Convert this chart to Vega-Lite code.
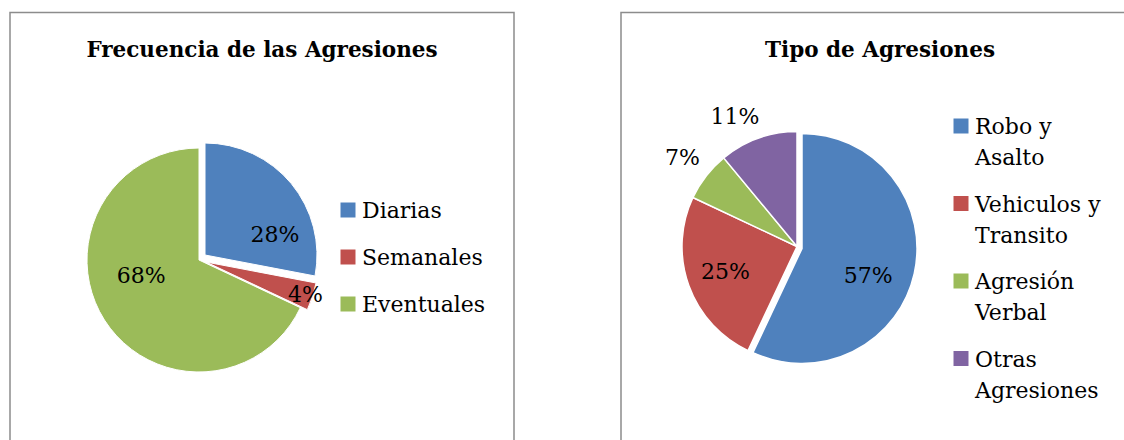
{
  "$schema": "https://vega.github.io/schema/vega-lite/v6.json",
  "background": "white",
  "padding": {"left": 9, "top": 11.5, "right": 0, "bottom": 0},
  "spacing": 105,
  "config": {
    "view": {"stroke": "#8c8c8c", "strokeWidth": 1.5},
    "font": "DejaVu Serif",
    "title": {"font": "DejaVu Serif", "fontSize": 21.5, "fontWeight": "bold", "color": "#000", "anchor": "middle", "frame": "group", "baseline": "alphabetic"},
    "legend": {"title": null, "symbolType": "square", "symbolSize": 225, "symbolStrokeWidth": 0, "symbolOpacity": 1, "labelFontSize": 22, "labelFont": "DejaVu Serif", "labelColor": "#000", "labelOffset": 3, "padding": 0, "labelLimit": 300, "labelBaseline": "top"},
    "style": {"guide-label": {"lineHeight": 31, "dy": -9}}
  },
  "resolve": {"scale": {"color": "independent", "theta": "independent"}},
  "hconcat": [
    {
      "width": 504,
      "height": 440,
      "view": {"stroke": "#8c8c8c", "strokeWidth": 1.5},
      "title": {"text": "Frecuencia de las Agresiones", "offset": -49},
      "data": {"values": [
        {"cat": "Diarias", "ord": 1, "pct": 28, "label": "28%"},
        {"cat": "Semanales", "ord": 2, "pct": 4, "label": "4%"},
        {"cat": "Eventuales", "ord": 3, "pct": 68, "label": "68%"}
      ]},
      "encoding": {
        "theta": {"field": "pct", "type": "quantitative", "stack": true},
        "order": {"field": "ord", "type": "quantitative"},
        "color": {"field": "cat", "type": "nominal",
          "scale": {"domain": ["Diarias", "Semanales", "Eventuales"], "range": ["#4F81BD", "#C0504D", "#9BBB59"]},
          "legend": {"orient": "none", "legendX": 327, "legendY": 186.5, "rowPadding": 24}}
      },
      "layer": [
        {"mark": {"type": "arc", "radius": 112, "x": 189, "y": 247.5, "stroke": "white", "strokeWidth": 1},
         "encoding": {"opacity": {"condition": {"test": "datum.cat === 'Eventuales'", "value": 1}, "value": 0}}},
        {"mark": {"type": "arc", "radius": 112, "x": 195, "y": 242.5, "stroke": "white", "strokeWidth": 1},
         "encoding": {"opacity": {"condition": {"test": "datum.cat === 'Diarias'", "value": 1}, "value": 0}}},
        {"mark": {"type": "arc", "radius": 112, "x": 196, "y": 249.5, "stroke": "white", "strokeWidth": 1},
         "encoding": {"opacity": {"condition": {"test": "datum.cat === 'Semanales'", "value": 1}, "value": 0}}},
        {"mark": {"type": "text", "radius": 80, "thetaOffset": 0.37, "x": 189, "y": 247.5, "fontSize": 22, "font": "DejaVu Serif", "baseline": "middle", "align": "center"},
         "encoding": {"text": {"field": "label"}, "color": {"value": "#000"}, "detail": {"field": "cat"},
           "opacity": {"condition": {"test": "datum.cat === 'Diarias'", "value": 1}, "value": 0}}},
        {"mark": {"type": "text", "radius": 112, "x": 189, "y": 247.5, "fontSize": 22, "font": "DejaVu Serif", "baseline": "middle", "align": "center"},
         "encoding": {"text": {"field": "label"}, "color": {"value": "#000"}, "detail": {"field": "cat"},
           "opacity": {"condition": {"test": "datum.cat === 'Semanales'", "value": 1}, "value": 0}}},
        {"mark": {"type": "text", "radius": 60, "thetaOffset": 0.29, "x": 189, "y": 247.5, "fontSize": 22, "font": "DejaVu Serif", "baseline": "middle", "align": "center"},
         "encoding": {"text": {"field": "label"}, "color": {"value": "#000"}, "detail": {"field": "cat"},
           "opacity": {"condition": {"test": "datum.cat === 'Eventuales'", "value": 1}, "value": 0}}}
      ]
    },
    {
      "width": 518,
      "height": 440,
      "view": {"stroke": "#8c8c8c", "strokeWidth": 1.5},
      "title": {"text": "Tipo de Agresiones", "offset": -49},
      "data": {"values": [
        {"cat": "Robo y Asalto", "ord": 1, "pct": 57, "label": "57%"},
        {"cat": "Vehiculos y Transito", "ord": 2, "pct": 25, "label": "25%"},
        {"cat": "Agresión Verbal", "ord": 3, "pct": 7, "label": "7%"},
        {"cat": "Otras Agresiones", "ord": 4, "pct": 11, "label": "11%"}
      ]},
      "encoding": {
        "theta": {"field": "pct", "type": "quantitative", "stack": true},
        "order": {"field": "ord", "type": "quantitative"},
        "color": {"field": "cat", "type": "nominal",
          "scale": {"domain": ["Robo y Asalto", "Vehiculos y Transito", "Agresión Verbal", "Otras Agresiones"], "range": ["#4F81BD", "#C0504D", "#9BBB59", "#8064A2"]},
          "legend": {"orient": "none", "legendX": 329, "legendY": 102.5, "rowPadding": 23.5,
            "labelExpr": "datum.label === 'Robo y Asalto' ? ['Robo y', 'Asalto'] : datum.label === 'Vehiculos y Transito' ? ['Vehiculos y', 'Transito'] : datum.label === 'Agresión Verbal' ? ['Agresión', 'Verbal'] : ['Otras', 'Agresiones']"}}
      },
      "layer": [
        {"mark": {"type": "arc", "radius": 115, "x": 176, "y": 234, "stroke": "white", "strokeWidth": 1.5},
         "encoding": {"opacity": {"condition": {"test": "datum.cat !== 'Robo y Asalto'", "value": 1}, "value": 0}}},
        {"mark": {"type": "arc", "radius": 115, "x": 181, "y": 236, "stroke": "white", "strokeWidth": 1.5},
         "encoding": {"opacity": {"condition": {"test": "datum.cat === 'Robo y Asalto'", "value": 1}, "value": 0}}},
        {"mark": {"type": "text", "radius": 77, "thetaOffset": 0.17, "x": 176, "y": 234, "fontSize": 22, "font": "DejaVu Serif", "baseline": "middle", "align": "center"},
         "encoding": {"text": {"field": "label"}, "color": {"value": "#000"}, "detail": {"field": "cat"},
           "opacity": {"condition": {"test": "datum.cat === 'Robo y Asalto'", "value": 1}, "value": 0}}},
        {"mark": {"type": "text", "radius": 76, "x": 176, "y": 234, "fontSize": 22, "font": "DejaVu Serif", "baseline": "middle", "align": "center"},
         "encoding": {"text": {"field": "label"}, "color": {"value": "#000"}, "detail": {"field": "cat"},
           "opacity": {"condition": {"test": "datum.cat === 'Vehiculos y Transito'", "value": 1}, "value": 0}}},
        {"mark": {"type": "text", "radius": 145, "x": 176, "y": 234, "fontSize": 22, "font": "DejaVu Serif", "baseline": "middle", "align": "center"},
         "encoding": {"text": {"field": "label"}, "color": {"value": "#000"}, "detail": {"field": "cat"},
           "opacity": {"condition": {"test": "datum.cat === 'Agresión Verbal'", "value": 1}, "value": 0}}},
        {"mark": {"type": "text", "radius": 144, "thetaOffset": -0.1, "x": 176, "y": 234, "fontSize": 22, "font": "DejaVu Serif", "baseline": "middle", "align": "center"},
         "encoding": {"text": {"field": "label"}, "color": {"value": "#000"}, "detail": {"field": "cat"},
           "opacity": {"condition": {"test": "datum.cat === 'Otras Agresiones'", "value": 1}, "value": 0}}}
      ]
    }
  ]
}
